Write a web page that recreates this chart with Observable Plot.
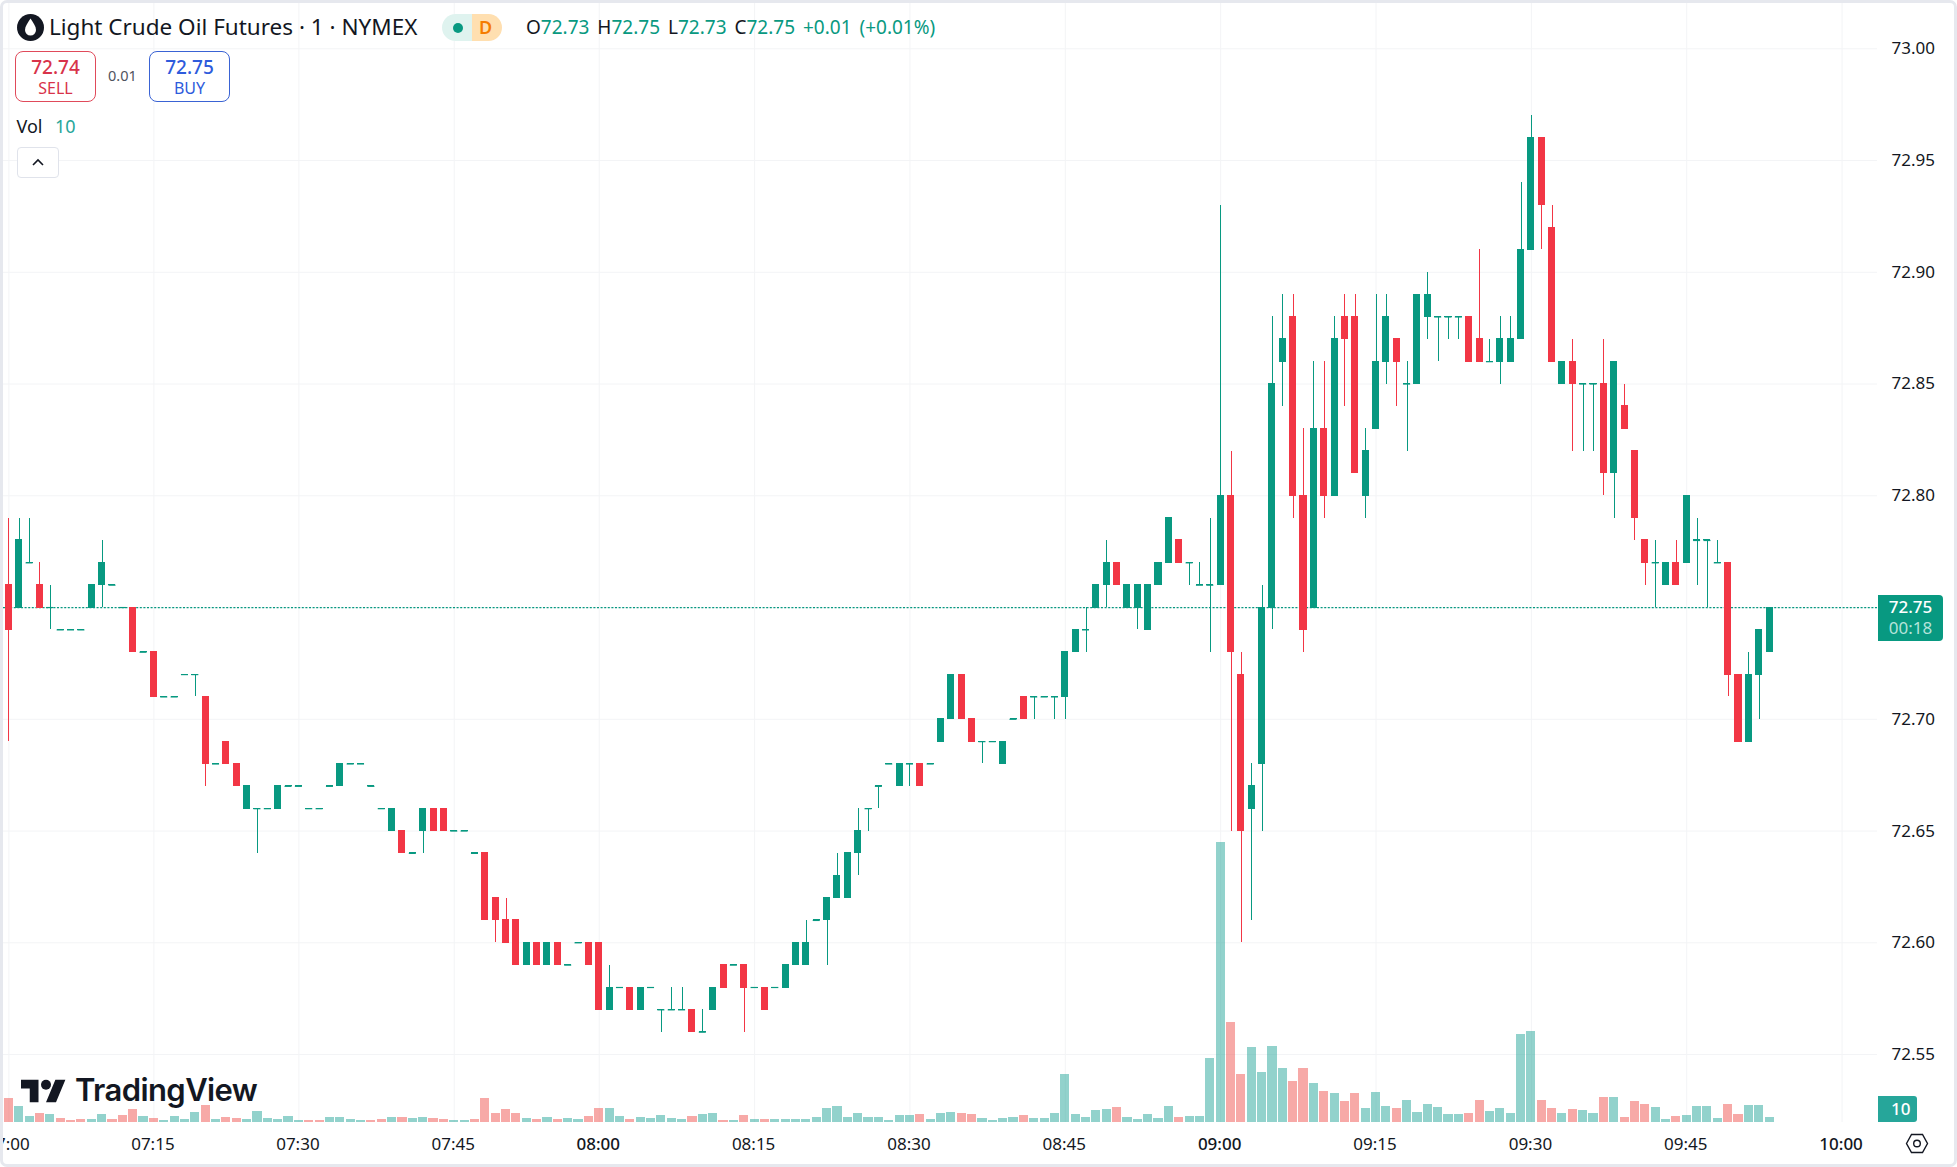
<!DOCTYPE html>
<html>
<head>
<meta charset="utf-8">
<title>Light Crude Oil Futures</title>
<script src="https://cdn.jsdelivr.net/npm/d3@7"></script>
<script src="https://cdn.jsdelivr.net/npm/@observablehq/plot@0.6"></script>
<style>
html,body{margin:0;padding:0;background:#fff;width:1957px;height:1167px;overflow:hidden;}
#stage{position:relative;width:1957px;height:1167px;font-family:"Noto Sans",sans-serif;color:#131722;overflow:hidden;}
#stage svg.pl{position:absolute;left:0;top:0;}
.abs{position:absolute;white-space:nowrap;line-height:1;}
.frame{position:absolute;left:0;top:0;width:1957px;height:1167px;box-sizing:border-box;border:3px solid #e6e8ee;border-radius:7px;pointer-events:none;}
.box{position:absolute;box-sizing:border-box;border-radius:8px;text-align:center;background:#fff;}
</style>
</head>
<body>
<div id="stage"></div>
<script>
const P = v => v.map(c => 72 + c / 100);
const open = P([76,75,77,76,75,74,74,74,75,76,76,75,75,73,73,71,71,72,72,71,68,69,68,66,66,66,66,67,67,66,66,67,67,68,68,67,66,65,65,64,65,66,66,65,65,64,64,62,61,61,59,60,59,60,59,60,60,60,57,58,58,57,58,57,57,57,57,56,57,59,59,59,58,58,58,58,59,59,61,61,62,62,64,66,67,68,67,68,68,68,69,70,72,70,69,69,68,70,71,71,71,71,71,73,74,75,76,77,75,75,74,76,77,78,77,76,76,76,80,72,66,68,75,86,88,80,75,83,80,88,88,80,83,86,87,85,85,88,88,88,88,88,87,86,86,86,87,91,96,92,85,86,85,85,85,81,84,82,78,77,76,77,77,78,78,77,77,72,69,72,73]);
const high = P([79,79,79,77,76,74,74,74,76,78,76,75,75,73,73,71,71,72,72,71,68,69,68,67,66,66,67,67,67,66,66,67,68,68,68,67,66,66,65,64,66,66,66,65,65,64,64,62,62,61,60,60,60,60,59,60,60,60,59,58,58,58,58,57,58,58,57,57,58,59,59,59,58,58,58,59,60,61,61,62,64,64,66,66,67,68,68,68,68,68,70,72,72,70,69,69,69,70,71,71,71,71,73,74,75,76,78,77,76,76,76,77,79,78,77,77,79,93,82,73,68,76,88,89,89,83,86,86,88,89,89,83,89,89,87,86,89,90,88,88,88,88,91,87,88,88,94,97,96,93,86,87,85,85,87,86,85,82,78,78,77,78,80,79,78,78,77,72,73,74,75]);
const low = P([69,75,77,75,74,74,74,74,75,75,76,75,73,73,71,71,71,72,71,67,68,68,67,66,64,66,66,67,67,66,66,67,67,68,68,67,66,65,64,64,64,65,65,65,65,64,61,60,60,59,59,59,59,59,59,60,59,57,57,58,57,57,58,56,57,57,56,56,57,58,59,56,58,57,58,58,59,59,61,59,62,62,63,65,66,68,67,67,67,68,69,70,70,69,68,69,68,70,70,70,71,70,70,73,73,75,75,76,75,74,74,76,77,77,76,76,73,76,65,60,61,65,74,84,79,73,75,79,80,84,81,79,83,85,84,82,85,87,86,87,87,86,86,86,85,86,87,91,91,86,85,82,82,82,80,79,83,78,76,75,76,76,77,76,75,77,71,69,69,70,73]);
const close = P([74,78,77,75,75,74,74,74,76,77,76,75,73,73,71,71,71,72,72,68,68,68,67,67,66,66,67,67,67,66,66,67,68,68,68,67,66,66,64,64,66,65,65,65,65,64,61,61,60,59,60,59,60,59,59,60,59,57,58,58,57,58,58,57,57,57,56,56,58,58,59,58,58,57,58,59,60,60,61,62,63,64,65,66,67,68,68,68,67,68,70,72,70,69,69,69,69,70,70,71,71,71,73,74,74,76,77,76,76,76,76,77,79,77,77,76,76,80,73,65,67,75,85,87,80,74,83,80,87,87,81,82,86,88,86,85,89,89,88,88,88,86,86,86,87,87,91,96,93,86,86,85,85,85,81,86,83,79,77,77,77,76,80,78,78,77,72,69,72,74,75]);
const volume = [48,32,12,18,16,8,4,6,6,16,6,14,26,12,8,4,12,6,20,34,6,10,8,6,22,8,6,12,4,4,4,10,10,6,4,4,6,10,10,9,10,8,6,4,4,6,48,18,26,18,8,6,10,6,8,6,12,28,28,12,6,10,8,14,8,6,12,16,18,4,4,14,6,6,6,6,6,6,10,28,32,10,18,10,10,4,14,14,16,6,18,20,18,16,8,4,8,10,14,8,8,18,96,16,10,24,26,30,10,6,16,8,32,10,12,12,128,560,200,96,150,100,152,108,82,108,78,62,58,42,58,28,60,32,28,44,20,36,30,16,16,18,44,22,28,18,176,182,44,28,18,26,24,18,50,50,10,42,36,30,6,12,14,32,32,8,36,16,34,34,10];
const volumeDownBars = [0,3,5,6,7,10,11,12,14,19,21,22,29,30,35,36,38,41,42,45,46,47,48,49,51,53,56,57,60,66,69,71,73,88,92,93,98,107,113,118,119,124,125,127,129,130,134,141,142,148,149,151,154,156,157,158,161,166,167];
const timeTicks = [0,14,28,43,57,72,87,102,117,132,147,162,177];
const timeLabels = ["07:00","07:15","07:30","07:45","08:00","08:15","08:30","08:45","09:00","09:15","09:30","09:45","10:00"];
const hourLabels = ["08:00","09:00","10:00"];
const priceTicks = [72.55,72.60,72.65,72.70,72.75,72.80,72.85,72.90,72.95,73.00];
const lastPrice = 72.75;

const W = 1957, H = 1167, UP = "#089981", DOWN = "#f23645", GRID = "#f3f4f6";
const FONT = '"Noto Sans", sans-serif';
const idx = d3.range(open.length);
const candles = idx.map(i => ({i, o: open[i], h: high[i], l: low[i], c: close[i], col: close[i] < open[i] ? DOWN : UP, x1: i - 0.34, x2: i + 0.34}));
const vols = idx.map(i => ({i, v: volume[i], x1: i - 0.44, x2: i + 0.44, col: volumeDownBars.includes(i) ? "#ef5350" : "#26a69a"}));
const xDomain = [-0.521, 180.42];
const labelOf = t => timeLabels[timeTicks.indexOf(t)];
const hourTicks = timeTicks.filter(t => hourLabels.includes(labelOf(t)));
const plainTicks = timeTicks.filter(t => !hourLabels.includes(labelOf(t)));
const common = {width: W, height: H, marginLeft: 3, marginRight: 80, marginTop: 0, marginBottom: 45};

const price = Plot.plot({
  ...common,
  className: "pl",
  style: {background: "transparent", fontFamily: FONT, fontSize: "17px", color: "#131722"},
  x: {domain: xDomain, axis: null},
  y: {domain: [72.5196, 73.0216], axis: null},
  marks: [
    Plot.gridX({ticks: timeTicks, stroke: GRID, strokeOpacity: 1}),
    Plot.gridY({ticks: priceTicks, stroke: GRID, strokeOpacity: 1}),
    Plot.ruleY([lastPrice], {stroke: UP, strokeWidth: 1.2, strokeDasharray: "2 1.6"}),
    Plot.axisY({anchor: "right", ticks: priceTicks, tickFormat: d3.format(".2f"), tickSize: 0, tickPadding: 14, label: null, fill: "#131722", fontSize: 17}),
    Plot.axisX({anchor: "bottom", ticks: plainTicks, tickFormat: labelOf, tickSize: 0, tickPadding: 15, label: null, fill: "#131722", fontSize: 17, dx: -1}),
    Plot.axisX({anchor: "bottom", ticks: hourTicks, tickFormat: labelOf, tickSize: 0, tickPadding: 15, label: null, fill: "#131722", fontSize: 17, fontWeight: 500, dx: -1}),
    Plot.ruleX(candles, {x: "i", y1: "l", y2: "h", stroke: "col", strokeWidth: 1, shapeRendering: "crispEdges"}),
    Plot.rect(candles, {x1: "x1", x2: "x2", y1: "o", y2: "c", fill: "col", insetTop: -0.5, insetBottom: -0.5, shapeRendering: "crispEdges"}),
    Plot.ruleY(candles.filter(d => d.o === d.c), {y: "c", x1: "x1", x2: "x2", stroke: "col", strokeWidth: 1.2})
  ]
});

const vol = Plot.plot({
  ...common,
  className: "pl",
  style: {background: "transparent"},
  x: {domain: xDomain, axis: null},
  y: {domain: [0, 2244], axis: null},
  marks: [
    Plot.rect(vols, {x1: "x1", x2: "x2", y1: 0, y2: "v", fill: "col", fillOpacity: 0.5, shapeRendering: "crispEdges"})
  ]
});

const stage = document.getElementById("stage");
stage.append(price, vol);

const html = `
<svg class="abs" style="left:16.5px;top:14px" width="27" height="27" viewBox="0 0 27 27"><circle cx="13.5" cy="13.5" r="13.5" fill="#131722"/><path d="M13.5 4.5C10.5 9 8 12.5 8 16a5.5 5.5 0 0 0 11 0c0-3.5-2.5-7-5.500-11.500z" fill="#fff"/></svg>
<div class="abs" style="left:49px;top:16px;font-size:22.5px">Light Crude Oil Futures · 1 · NYMEX</div>
<div class="abs" style="left:442px;top:14px;width:30px;height:27px;background:#dff3ef;border-radius:14px 0 0 14px"></div>
<div class="abs" style="left:472px;top:14px;width:30px;height:27px;background:#ffdfb0;border-radius:0 14px 14px 0"></div>
<div class="abs" style="left:453px;top:22.5px;width:10px;height:10px;border-radius:50%;background:#089981"></div>
<div class="abs" style="left:479px;top:18px;font-size:18px;font-weight:600;color:#f57c00">D</div>
<div class="abs" style="left:526px;top:18px;font-size:19px;word-spacing:3px;color:#089981"><span style="color:#131722">O</span>72.73 <span style="color:#131722">H</span>72.75 <span style="color:#131722">L</span>72.73 <span style="color:#131722">C</span>72.75 +0.01 (+0.01%)</div>
<div class="box" style="left:15px;top:51px;width:81px;height:51px;border:1.5px solid #e04a5a;color:#d8334a"><div style="font-size:19px;font-weight:500;line-height:1;margin-top:6px">72.74</div><div style="font-size:16px;line-height:1;margin-top:3px">SELL</div></div>
<div class="abs" style="left:108px;top:68px;font-size:14.5px;color:#50535e">0.01</div>
<div class="box" style="left:149px;top:51px;width:81px;height:51px;border:1.5px solid #3a63d4;color:#2e5bdc"><div style="font-size:19px;font-weight:500;line-height:1;margin-top:6px">72.75</div><div style="font-size:16px;line-height:1;margin-top:3px">BUY</div></div>
<div class="abs" style="left:16.500px;top:117px;font-size:18px">Vol</div>
<div class="abs" style="left:55px;top:117px;font-size:18px;color:#26a69a">10</div>
<div class="abs" style="left:17px;top:147px;width:42px;height:31px;box-sizing:border-box;border:1px solid #e0e3eb;border-radius:4px;background:#fff"></div>
<svg class="abs" style="left:31px;top:157px" width="14" height="10" viewBox="0 0 14 10"><path d="M2 8l5-5 5 5" fill="none" stroke="#131722" stroke-width="1.6"/></svg>
<svg class="abs" style="left:21px;top:1079px" width="45" height="24" viewBox="0 3.500 36 19"><path d="M14 22H7V11H0V4h14v18zM28 22h-8l7.500-18h8L28 22z" fill="#131722"/><circle cx="20" cy="8" r="4" fill="#131722"/></svg>
<div class="abs" style="left:75px;top:1074px;font-family:Inter,sans-serif;font-size:31px;font-weight:600;letter-spacing:-0.6px;color:#131722">TradingView</div>
<div class="abs" style="left:1878px;top:595px;width:65px;height:46px;background:#089981;border-radius:0 4px 4px 0;color:#fff;text-align:center;font-size:17px;line-height:1"><div style="margin-top:3px;font-weight:500">${lastPrice.toFixed(2)}</div><div style="margin-top:4px;color:#b5e3da">00:18</div></div>
<div class="abs" style="left:1878px;top:1096px;width:39px;height:26px;background:#26a69a;border-radius:0 3px 3px 0;color:#fff;box-sizing:border-box;padding-left:13px;font-size:17px;font-weight:500;line-height:26px">${volume[volume.length - 1]}</div>
<svg class="abs" style="left:1905px;top:1133px" width="24" height="21" viewBox="0 0 24 21"><path d="M1.500 10.500L6.500 1.500h11l5 9-5 9h-11z" fill="none" stroke="#131722" stroke-width="1.4"/><circle cx="12" cy="10.500" r="3.300" fill="none" stroke="#131722" stroke-width="1.4"/></svg>
<div class="frame"></div>`;
stage.insertAdjacentHTML("beforeend", html);
</script>
</body>
</html>
